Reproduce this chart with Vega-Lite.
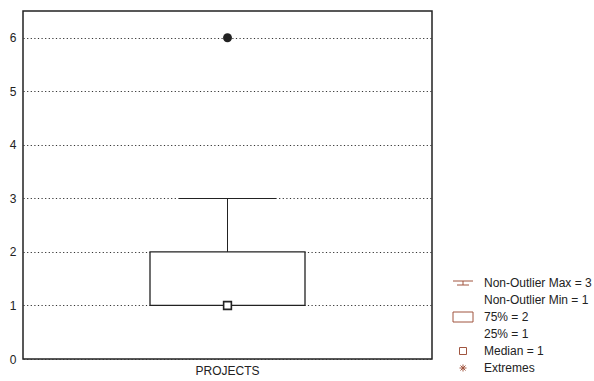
{
  "$schema": "https://vega.github.io/schema/vega-lite/v6.json",
  "background": "white",
  "padding": {"left": 8, "top": 10, "right": 0, "bottom": 0},
  "spacing": 18,
  "config": {
    "view": {"stroke": null},
    "font": "Liberation Sans",
    "text": {"font": "Liberation Sans"}
  },
  "datasets": {
    "stats": [
      {"variable": "PROJECTS", "min": 1, "q1": 1, "median": 1, "q3": 2, "max": 3}
    ],
    "extremes": [
      {"variable": "PROJECTS", "value": 6}
    ],
    "key": [
      {"item": "max", "label": "Non-Outlier Max = 3", "symbol": "whisker"},
      {"item": "min", "label": "Non-Outlier Min = 1", "symbol": null},
      {"item": "q3", "label": "75% = 2", "symbol": "box"},
      {"item": "q1", "label": "25% = 1", "symbol": null},
      {"item": "median", "label": "Median = 1", "symbol": "median"},
      {"item": "extreme", "label": "Extremes", "symbol": "extreme"}
    ]
  },
  "hconcat": [
    {
      "width": 409,
      "height": 348,
      "view": {"stroke": "#222222", "strokeWidth": 1.5},
      "encoding": {
        "x": {
          "field": "variable",
          "type": "nominal",
          "scale": {"paddingInner": 0, "paddingOuter": 0},
          "axis": {
            "title": null,
            "ticks": false,
            "domain": false,
            "grid": false,
            "labelAngle": 0,
            "labelPadding": 6,
            "labelFontSize": 12,
            "labelColor": "#222222"
          }
        }
      },
      "layer": [
        {
          "data": {"name": "stats"},
          "mark": {"type": "tick", "color": "#999999", "size": 97, "thickness": 1, "opacity": 1},
          "encoding": {
            "y": {
              "field": "min",
              "type": "quantitative",
              "title": null,
              "scale": {"domain": [0, 6.5], "nice": false},
              "axis": {
                "values": [0, 1, 2, 3, 4, 5, 6],
                "ticks": false,
                "domain": false,
                "labelPadding": 7,
                "labelFontSize": 12,
                "labelColor": "#222222",
                "grid": true,
                "gridDash": [1.2, 2.4],
                "gridColor": "#333333",
                "gridOpacity": 1
              }
            }
          }
        },
        {
          "data": {"name": "stats"},
          "mark": {"type": "rule", "color": "#222222", "strokeWidth": 1},
          "encoding": {
            "y": {"field": "q3", "type": "quantitative", "title": null},
            "y2": {"field": "max"}
          }
        },
        {
          "data": {"name": "stats"},
          "mark": {"type": "tick", "color": "#222222", "size": 97, "thickness": 1, "opacity": 1},
          "encoding": {
            "y": {"field": "max", "type": "quantitative", "title": null}
          }
        },
        {
          "data": {"name": "stats"},
          "mark": {"type": "bar", "fill": "white", "stroke": "#222222", "strokeWidth": 1.3, "size": 155},
          "encoding": {
            "y": {"field": "q1", "type": "quantitative", "title": null},
            "y2": {"field": "q3"}
          }
        },
        {
          "data": {"name": "stats"},
          "mark": {"type": "point", "shape": "square", "filled": true, "fill": "white", "stroke": "#222222", "strokeWidth": 1.6, "size": 60, "opacity": 1},
          "encoding": {
            "y": {"field": "median", "type": "quantitative", "title": null}
          }
        },
        {
          "data": {"name": "extremes"},
          "mark": {"type": "point", "shape": "circle", "filled": true, "color": "#222222", "size": 80, "opacity": 1},
          "encoding": {
            "y": {"field": "value", "type": "quantitative", "title": null}
          }
        }
      ]
    },
    {
      "width": 20,
      "height": 357,
      "data": {"name": "key"},
      "encoding": {
        "y": {
          "field": "item",
          "type": "nominal",
          "scale": {
            "type": "point",
            "domain": ["s01", "s02", "s03", "s04", "s05", "s06", "s07", "s08", "s09", "s10", "s11", "s12", "s13", "s14", "max", "min", "q3", "q1", "median", "extreme"],
            "padding": 1,
            "align": 1
          },
          "axis": null
        }
      },
      "layer": [
        {
          "transform": [{"filter": "datum.symbol != null"}],
          "mark": {"type": "point", "filled": false, "strokeWidth": 1, "size": 400, "opacity": 1, "color": "#a0553f"},
          "encoding": {
            "shape": {
              "field": "symbol",
              "type": "nominal",
              "legend": null,
              "scale": {
                "domain": ["whisker", "box", "median", "extreme"],
                "range": [
                  "M -1 -0.2 H 1 M 0 -0.2 V 0.2 M -0.6 0.2 H 0.6",
                  "M -1 -0.5 H 1 V 0.5 H -1 Z",
                  "M -0.35 -0.35 H 0.35 V 0.35 H -0.35 Z",
                  "M -0.35 0 H 0.35 M 0 -0.35 V 0.35 M -0.25 -0.25 L 0.25 0.25 M -0.25 0.25 L 0.25 -0.25"
                ]
              }
            }
          }
        },
        {
          "mark": {"type": "text", "align": "left", "baseline": "middle", "dx": 21, "fontSize": 12, "color": "#222222"},
          "encoding": {
            "text": {"field": "label", "type": "nominal"}
          }
        }
      ]
    }
  ]
}
